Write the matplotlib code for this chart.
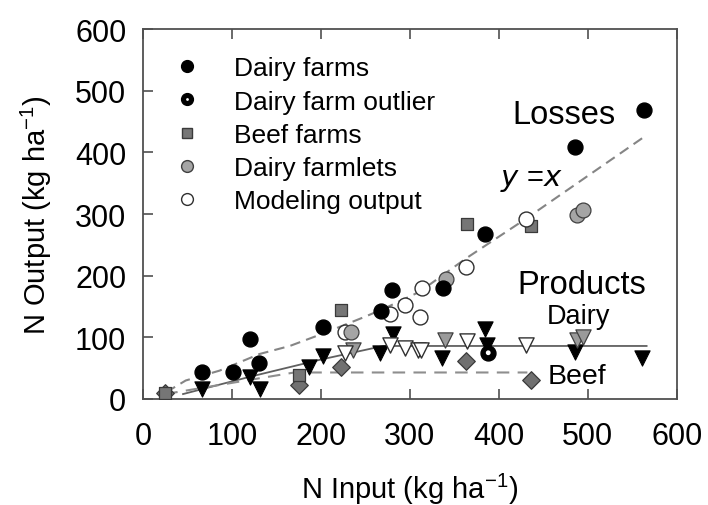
import matplotlib
matplotlib.use("Agg")
import matplotlib.pyplot as plt
from matplotlib.lines import Line2D

plt.rcParams['font.family'] = ['Liberation Sans', 'DejaVu Sans']

# ---- data ----
dairy_x = [66, 101, 120, 130, 202, 267, 280, 337, 384, 486, 563]
dairy_y = [44, 44, 97, 59, 117, 142, 177, 180, 268, 408, 468]

outlier_x = [388]
outlier_y = [75]

beef_x = [25, 175, 222, 364, 436]
beef_y = [9, 39, 144, 284, 281]

farmlet_x = [234, 340, 488, 494]
farmlet_y = [109, 194, 298, 307]

model_x = [227, 278, 294, 311, 314, 363, 430]
model_y = [109, 138, 152, 133, 180, 214, 292]

# products (triangles = dairy products, diamonds = beef products)
dairy_prod_x = [66, 120, 131, 187, 202, 266, 281, 336, 384, 387, 486, 561]
dairy_prod_y = [17, 36, 17, 52, 70, 74, 106, 66, 114, 88, 77, 66]
farmlet_prod_x = [236, 339, 488, 494]
farmlet_prod_y = [79, 95, 95, 101]
model_prod_x = [227, 278, 294, 309, 313, 364, 430]
model_prod_y = [74, 87, 83, 79, 79, 94, 87]
beef_prod_x = [25, 175, 222, 363, 436]
beef_prod_y = [9, 22, 52, 61, 30]

# fitted lines (vertices)
loss_line_x = [26, 48, 86, 131, 165, 202, 247, 270, 311, 363, 430, 566]
loss_line_y = [11, 30, 46, 73, 86, 106, 132, 146, 174, 228, 292, 428]
dairy_line_x = [45, 120, 200, 270, 566]
dairy_line_y = [8, 36, 64, 86, 86]
beef_line_x = [25, 120, 170, 432]
beef_line_y = [8, 31, 43, 43]

legend_labels = ["Dairy farms", "Dairy farm outlier", "Beef farms",
                 "Dairy farmlets", "Modeling output"]

# ---- figure ----
fig = plt.figure(figsize=(7.08, 5.06), dpi=100)
ax = fig.add_axes([0.202, 0.2095, 0.754, 0.731])

frame_c = '#505050'
ax.plot(loss_line_x, loss_line_y, ls=(0, (5, 3)), color='#858585', lw=1.5, zorder=1)
ax.plot(dairy_line_x, dairy_line_y, ls='-', color='#606060', lw=1.3, zorder=1)
ax.plot(beef_line_x, beef_line_y, ls=(0, (6, 4)), color='#8e8e8e', lw=1.5, zorder=1)

ms = 115
tri_ms = 120
# products
ax.scatter(beef_prod_x, beef_prod_y, marker='D', s=80, c='#707070', edgecolors='#3a3a3a', linewidths=0.9, zorder=3)
ax.scatter(dairy_prod_x, dairy_prod_y, marker='v', s=tri_ms, c='black', edgecolors='black', linewidths=0.8, zorder=4)
ax.scatter(farmlet_prod_x, farmlet_prod_y, marker='v', s=tri_ms, c='#9a9a9a', edgecolors='#404040', linewidths=0.9, zorder=4)
ax.scatter(model_prod_x, model_prod_y, marker='v', s=tri_ms, c='white', edgecolors='#303030', linewidths=1.0, zorder=4)

# losses / outputs
ax.scatter(beef_x, beef_y, marker='s', s=85, c='#767676', edgecolors='#3a3a3a', linewidths=0.9, zorder=3)
ax.scatter(model_x, model_y, marker='o', s=ms, c='white', edgecolors='#303030', linewidths=1.0, zorder=4)
ax.scatter(farmlet_x, farmlet_y, marker='o', s=ms, c='#a5a5a5', edgecolors='#404040', linewidths=0.9, zorder=4)
ax.scatter(dairy_x, dairy_y, marker='o', s=ms, c='black', edgecolors='black', zorder=5)
ax.scatter(outlier_x, outlier_y, marker='o', s=ms, c='black', edgecolors='black', zorder=5)
ax.scatter(outlier_x, outlier_y, marker='o', s=12, c='white', edgecolors='none', zorder=6)

# annotations
ax.text(473, 462, "Losses", fontsize=23.5, ha='center', va='center')
ax.text(436, 357, r"$\mathit{y}$ =$\mathit{x}$", fontsize=21, ha='center', va='center')
ax.text(493, 186, "Products", fontsize=23.5, ha='center', va='center')
ax.text(489, 135, "Dairy", fontsize=19.5, ha='center', va='center')
ax.text(488, 37, "Beef", fontsize=20.5, ha='center', va='center')

# legend
h = [
    Line2D([], [], ls='none', marker='o', ms=8.5, mfc='black', mec='black'),
    (Line2D([], [], ls='none', marker='o', ms=8.5, mfc='black', mec='black'),
     Line2D([], [], ls='none', marker='o', ms=2, mfc='white', mec='none')),
    Line2D([], [], ls='none', marker='s', ms=7.5, mfc='#767676', mec='#3a3a3a'),
    Line2D([], [], ls='none', marker='o', ms=8.5, mfc='#a5a5a5', mec='#404040'),
    Line2D([], [], ls='none', marker='o', ms=8.5, mfc='white', mec='#303030'),
]
leg = ax.legend(h, legend_labels, loc='upper left', bbox_to_anchor=(0.037, 0.955),
                frameon=False, fontsize=19, handlelength=1.0, handletextpad=1.3,
                labelspacing=0.35, borderaxespad=0)

ax.set_xlim(0, 600)
ax.set_ylim(0, 600)
ax.set_xticks(range(0, 601, 100))
ax.set_yticks(range(0, 601, 100))
ax.tick_params(direction='in', length=7, width=1.2, color=frame_c, labelsize=22,
               top=True, right=False)
ax.tick_params(axis='x', pad=16)
ax.tick_params(axis='y', pad=12)
for sp in ax.spines.values():
    sp.set_color(frame_c)
    sp.set_linewidth(1.3)

ax.set_xlabel(r"N Input (kg ha$^{\mathregular{-1}}$)", fontsize=21, labelpad=14)
ax.set_ylabel(r"N Output (kg ha$^{\mathregular{-1}}$)", fontsize=21, labelpad=15)

fig.savefig("out.png", dpi=100)
